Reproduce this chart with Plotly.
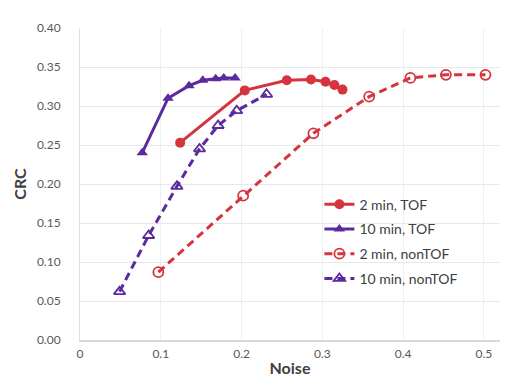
import plotly.graph_objects as go

# Data
tof2_x = [0.124, 0.204, 0.256, 0.286, 0.304, 0.315, 0.325]
tof2_y = [0.253, 0.320, 0.333, 0.334, 0.331, 0.327, 0.321]

tof10_x = [0.077, 0.109, 0.135, 0.152, 0.168, 0.178, 0.192]
tof10_y = [0.240, 0.310, 0.326, 0.333, 0.335, 0.336, 0.336]

non2_x = [0.097, 0.202, 0.289, 0.358, 0.409, 0.453, 0.502]
non2_y = [0.087, 0.185, 0.265, 0.312, 0.336, 0.340, 0.340]

non10_x = [0.049, 0.085, 0.120, 0.148, 0.171, 0.194, 0.231]
non10_y = [0.062, 0.134, 0.197, 0.245, 0.275, 0.294, 0.315]

names = ["2 min, TOF", "10 min, TOF", "2 min, nonTOF", "10 min, nonTOF"]
x_ticks = [0, 0.1, 0.2, 0.3, 0.4, 0.5]
x_ticktext = ["0", "0.1", "0.2", "0.3", "0.4", "0.5"]
y_ticks = [0.0, 0.05, 0.10, 0.15, 0.20, 0.25, 0.30, 0.35, 0.40]

RED = "#D5343F"
PURPLE = "#5B2A9E"

fig = go.Figure()
fig.add_trace(go.Scatter(x=tof2_x, y=tof2_y, name=names[0], legendgroup="a",
                         mode="lines+markers",
                         line=dict(color=RED, width=3),
                         marker=dict(symbol="circle", size=10, color=RED)))
fig.add_trace(go.Scatter(x=tof10_x, y=tof10_y, name=names[1], legendgroup="b",
                         mode="lines+markers",
                         line=dict(color=PURPLE, width=3),
                         marker=dict(symbol="triangle-up", size=10, color=PURPLE)))
fig.add_trace(go.Scatter(x=non2_x, y=non2_y, name=names[2], legendgroup="c",
                         mode="lines+markers",
                         line=dict(color=RED, width=3, dash="8px,5px"),
                         marker=dict(symbol="circle-open", size=10, color=RED,
                                     line=dict(width=1.8, color=RED))))
fig.add_trace(go.Scatter(x=non10_x, y=non10_y, name=names[3], legendgroup="d",
                         mode="lines+markers",
                         line=dict(color=PURPLE, width=3, dash="8px,5px"),
                         marker=dict(symbol="triangle-up-open", size=10, color=PURPLE,
                                     line=dict(width=1.8, color=PURPLE))))

font_family = "Lato, 'Open Sans', sans-serif"

fig.update_layout(
    width=508, height=391,
    margin=dict(l=71, r=16, t=15, b=59),
    paper_bgcolor="white", plot_bgcolor="white",
    font=dict(family=font_family, color="#595959", size=12),
    showlegend=True,
    legend=dict(x=0.57, y=0.485, xanchor="left", yanchor="top",
                bgcolor="rgba(0,0,0,0)", tracegroupgap=3.5,
                font=dict(size=14, color="#404040", family=font_family)),
    xaxis=dict(range=[0, 0.52], tickvals=x_ticks, ticktext=x_ticktext,
               showgrid=True, gridcolor="#f0f0f0", gridwidth=1,
               showline=True, linecolor="#d9d9d9", linewidth=2,
               zeroline=False, ticks="", ticklabelstandoff=2,
               title=dict(text="<b>Noise</b>", standoff=2,
                          font=dict(size=16, color="#404040", family=font_family))),
    yaxis=dict(range=[0, 0.40], tickvals=y_ticks, tickformat=".2f",
               showgrid=True, gridcolor="#e8e8e8", gridwidth=1,
               showline=True, linecolor="#e0e0e0", linewidth=1,
               zeroline=False, ticks="", ticklabelstandoff=16,
               title=dict(text="<b>CRC</b>", standoff=6,
                          font=dict(size=16, color="#404040", family=font_family))),
)

fig.write_html("out.html")
